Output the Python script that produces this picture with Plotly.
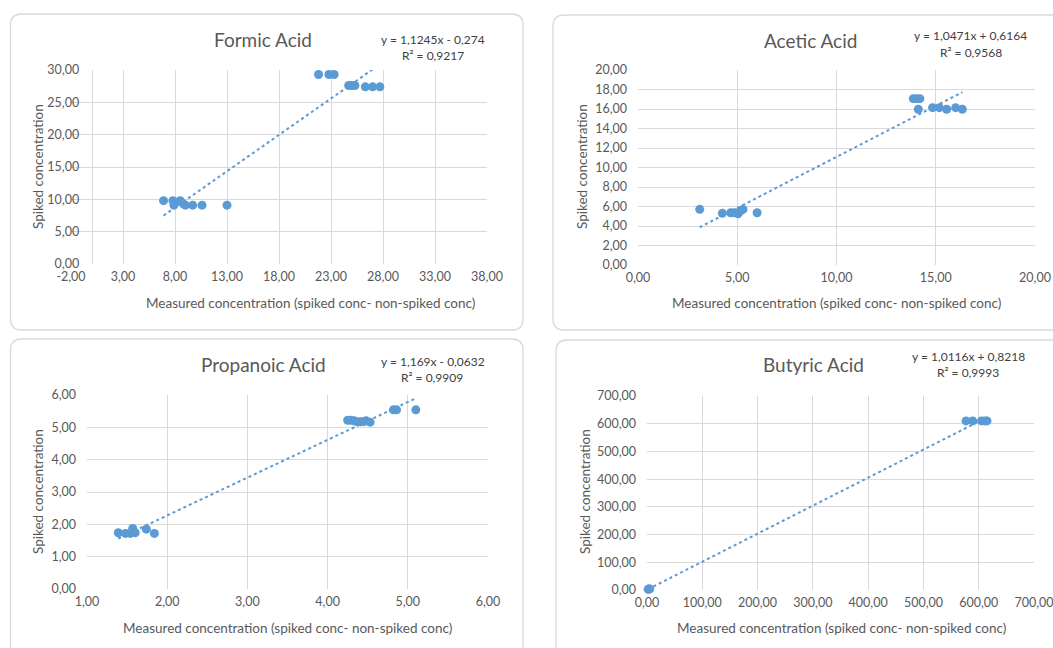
import plotly.graph_objects as go

W, H = 1053, 648
BLUE = "#5b9bd5"
GRID = "#d9d9d9"
TXT = "#595959"
FONT = "Lato"

# ---- data -------------------------------------------------------------
formic_x = [6.9, 7.8, 7.9, 8.0, 8.5, 8.8, 9.0, 9.7, 10.6, 13.0,
            21.8, 22.8, 23.3, 24.7, 25.0, 25.3, 26.3, 27.0, 27.7]
formic_y = [9.8, 9.8, 9.1, 9.5, 9.8, 9.3, 9.1, 9.1, 9.1, 9.1,
            29.3, 29.3, 29.3, 27.6, 27.6, 27.6, 27.4, 27.4, 27.4]

acetic_x = [3.11, 4.25, 4.67, 4.87, 5.04, 5.16, 5.29, 6.0,
            13.87, 14.05, 14.2, 14.12, 14.84, 15.18, 15.55, 16.0, 16.34]
acetic_y = [5.71, 5.30, 5.36, 5.36, 5.25, 5.55, 5.70, 5.36,
            17.06, 17.06, 17.06, 15.97, 16.14, 16.14, 15.97, 16.14, 15.97]

propanoic_x = [1.39, 1.48, 1.54, 1.57, 1.60, 1.74, 1.84,
               4.25, 4.29, 4.33, 4.37, 4.41, 4.45, 4.48, 4.53,
               4.82, 4.86, 5.10]
propanoic_y = [1.74, 1.72, 1.72, 1.87, 1.74, 1.85, 1.72,
               5.22, 5.22, 5.20, 5.17, 5.17, 5.18, 5.20, 5.16,
               5.54, 5.54, 5.54]

butyric_x = [2.0, 3.5, 5.0, 577, 589, 605, 611, 615]
butyric_y = [2.5, 3.5, 4.0, 610, 610, 610, 610, 610]

# linear fits (slope, intercept, R^2)
fits = {
    "Formic Acid": (1.1245, -0.274, 0.9217),
    "Acetic Acid": (1.0471, 0.6164, 0.9568),
    "Propanoic Acid": (1.169, -0.0632, 0.9909),
    "Butyric Acid": (1.0116, 0.8218, 0.9993),
}

# axis ticks
formic_xticks = [-2, 3, 8, 13, 18, 23, 28, 33, 38]
formic_yticks = [0, 5, 10, 15, 20, 25, 30]
acetic_xticks = [0, 5, 10, 15, 20]
acetic_yticks = [0, 2, 4, 6, 8, 10, 12, 14, 16, 18, 20]
propanoic_xticks = [1, 2, 3, 4, 5, 6]
propanoic_yticks = [0, 1, 2, 3, 4, 5, 6]
butyric_xticks = [0, 100, 200, 300, 400, 500, 600, 700]
butyric_yticks = [0, 100, 200, 300, 400, 500, 600, 700]

X_TITLE = "Measured concentration (spiked conc- non-spiked conc)"
Y_TITLE = "Spiked concentration"


def fmt(v):
    return f"{v:.2f}".replace(".", ",")


def dec(v):
    return str(v).replace(".", ",")


def eq_text(m, b):
    sign = "+" if b >= 0 else "-"
    return f"y = {dec(m)}x {sign} {dec(abs(b))}"


def px(x):
    return x / W


def py(y):
    return 1 - y / H


# panel geometry in pixels: plot box (left, right, top, bottom), card box,
# title / equation / axis-title centres
panels = [
    dict(name="Formic Acid", x=formic_x, y=formic_y,
         xt=formic_xticks, yt=formic_yticks,
         box=(71, 487, 70, 264), yaxis_at=91.7,
         card=(10.5, 523, 14, 330),
         title=(263, 39), eq=(433, 39), r2=(433, 55),
         xtitle=(310, 303), ytitle=(38, 167)),
    dict(name="Acetic Acid", x=acetic_x, y=acetic_y,
         xt=acetic_xticks, yt=acetic_yticks,
         box=(638, 1035, 70, 265), yaxis_at=None,
         card=(553, 1068, 15, 330),
         title=(810, 40), eq=(970, 35), r2=(971, 52),
         xtitle=(836, 303), ytitle=(582, 167)),
    dict(name="Propanoic Acid", x=propanoic_x, y=propanoic_y,
         xt=propanoic_xticks, yt=propanoic_yticks,
         box=(87, 488, 395, 589), yaxis_at=None,
         card=(10.5, 523, 339, 665),
         title=(263, 364), eq=(433, 361), r2=(432, 377),
         xtitle=(287, 628), ytitle=(38, 492)),
    dict(name="Butyric Acid", x=butyric_x, y=butyric_y,
         xt=butyric_xticks, yt=butyric_yticks,
         box=(647, 1034, 396, 590), yaxis_at=None,
         card=(556, 1068, 340, 665),
         title=(813, 365), eq=(968, 356), r2=(968, 372),
         xtitle=(841, 628), ytitle=(585, 492)),
]


def rounded_rect(x0, x1, y0, y1, r=11):
    """SVG path in paper coordinates for a rounded rectangle given in pixels."""
    pts = [
        ("M", x0 + r, y0), ("L", x1 - r, y0), ("Q", x1, y0, x1, y0 + r),
        ("L", x1, y1 - r), ("Q", x1, y1, x1 - r, y1), ("L", x0 + r, y1),
        ("Q", x0, y1, x0, y1 - r), ("L", x0, y0 + r), ("Q", x0, y0, x0 + r, y0),
    ]
    out = []
    for p in pts:
        cmd, coords = p[0], p[1:]
        parts = []
        for i in range(0, len(coords), 2):
            parts.append(f"{px(coords[i]):.5f},{py(coords[i + 1]):.5f}")
        out.append(cmd + " " + " ".join(parts))
    return " ".join(out) + " Z"


fig = go.Figure()
layout = dict(
    width=W, height=H,
    margin=dict(l=0, r=0, t=0, b=0, pad=0, autoexpand=False),
    paper_bgcolor="white", plot_bgcolor="white", showlegend=False,
    font=dict(family=FONT, color=TXT),
    shapes=[], annotations=[],
)

for i, p in enumerate(panels, start=1):
    xa = "x" if i == 1 else f"x{i}"
    ya = "y" if i == 1 else f"y{i}"
    m, b, r2 = fits[p["name"]]

    # fitted trend line spanning the measured range
    x0, x1 = min(p["x"]), max(p["x"])
    fig.add_trace(go.Scatter(
        x=[x0, x1], y=[m * x0 + b, m * x1 + b], mode="lines",
        line=dict(color=BLUE, width=2, dash="dot"),
        xaxis=xa, yaxis=ya, hoverinfo="skip"))
    fig.add_trace(go.Scatter(
        x=p["x"], y=p["y"], mode="markers", cliponaxis=False,
        marker=dict(color=BLUE, size=9, line=dict(width=0)),
        xaxis=xa, yaxis=ya))

    l, r, t, btm = p["box"]
    xkey = "xaxis" if i == 1 else f"xaxis{i}"
    ykey = "yaxis" if i == 1 else f"yaxis{i}"
    layout[xkey] = dict(
        domain=[px(l), px(r)], anchor=ya, automargin=False,
        range=[p["xt"][0], p["xt"][-1]],
        tickmode="array", tickvals=p["xt"], ticktext=[fmt(v) for v in p["xt"]],
        showgrid=True, gridcolor=GRID, gridwidth=1, zeroline=False,
        showline=False, ticks="", ticklabelstandoff=3,
        ticklabeloverflow="allow",
        tickfont=dict(size=12.5, color=TXT, family=FONT), fixedrange=True)
    yax = dict(
        domain=[py(btm), py(t)], automargin=False,
        range=[p["yt"][0], p["yt"][-1]],
        tickmode="array", tickvals=p["yt"], ticktext=[fmt(v) for v in p["yt"]],
        showgrid=True, gridcolor=GRID, gridwidth=1, zeroline=False,
        showline=False, ticks="", ticklabelstandoff=10,
        ticklabeloverflow="allow",
        tickfont=dict(size=12.5, color=TXT, family=FONT), fixedrange=True)
    if p["yaxis_at"] is not None:
        # vertical axis crosses the horizontal axis at x = 0
        yax.update(anchor="free", position=px(p["yaxis_at"]),
                   showline=True, linecolor=GRID, linewidth=1)
    else:
        yax.update(anchor=xa)
    layout[ykey] = yax

    # card outline
    cx0, cx1, cy0, cy1 = p["card"]
    layout["shapes"].append(dict(
        type="path", path=rounded_rect(cx0, cx1, cy0, cy1),
        xref="paper", yref="paper", line=dict(color=GRID, width=1.3),
        fillcolor="rgba(0,0,0,0)", layer="below"))

    def ann(text, pos, size, color=TXT, angle=0):
        layout["annotations"].append(dict(
            text=text, x=px(pos[0]), y=py(pos[1]), xref="paper", yref="paper",
            xanchor="center", yanchor="middle", showarrow=False,
            textangle=angle, font=dict(size=size, color=color, family=FONT)))

    ann(p["name"], p["title"], 19)
    ann(eq_text(m, b), p["eq"], 12, "#404040")
    ann(f"R² = {dec(r2)}", p["r2"], 12, "#404040")
    ann(X_TITLE, p["xtitle"], 13.5)
    ann(Y_TITLE, p["ytitle"], 13.5, angle=-90)

fig.update_layout(**layout)
fig.write_html("out.html")
